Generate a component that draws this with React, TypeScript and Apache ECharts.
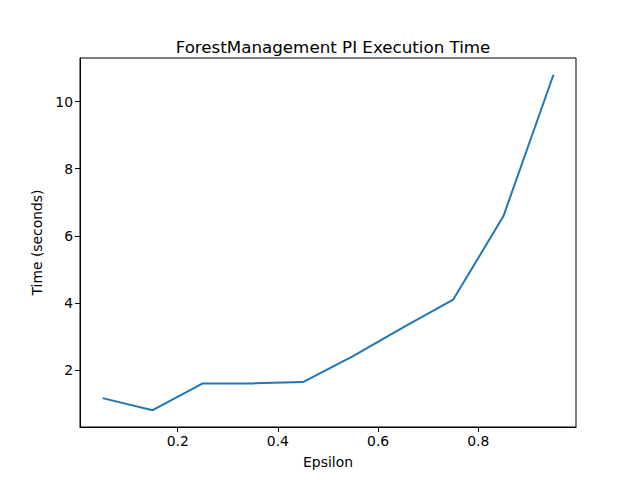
import React, { useEffect, useRef } from 'react';
import * as echarts from 'echarts';

const epsilon = [0.05, 0.15, 0.25, 0.35, 0.45, 0.55, 0.65, 0.75, 0.85, 0.95];
const timeSeconds = [1.16, 0.8, 1.6, 1.6, 1.64, 2.41, 3.27, 4.1, 6.58, 10.8];
const xTicks = [0.2, 0.4, 0.6, 0.8];
const yTicks = [2, 4, 6, 8, 10];

const font = 'DejaVu Sans';

const App: React.FC = () => {
  const chartRef = useRef<HTMLDivElement | null>(null);

  useEffect(() => {
    if (!chartRef.current) return;
    const chart = echarts.init(chartRef.current, null, { renderer: 'svg' });
    chart.setOption({
      animation: false,
      title: {
        text: 'ForestManagement PI Execution Time',
        left: 328,
        top: 33,
        textAlign: 'center',
        textStyle: { fontFamily: font, fontSize: 16.7, fontWeight: 'normal', color: '#000' },
      },
      grid: {
        left: 80,
        right: 64,
        top: 58,
        bottom: 53,
        show: true,
        borderColor: '#000',
        borderWidth: 1,
      },
      xAxis: {
        type: 'value',
        min: 0.005,
        max: 0.995,
        name: 'Epsilon',
        nameLocation: 'middle',
        nameGap: 28,
        nameTextStyle: { fontFamily: font, fontSize: 13.9, color: '#000' },
        splitLine: { show: false },
        axisLine: { lineStyle: { color: '#000' } },
        axisTick: { show: true, length: 5, lineStyle: { color: '#000' }, customValues: xTicks },
        axisLabel: {
          fontFamily: font,
          fontSize: 13.9,
          color: '#000',
          margin: 7,
          customValues: xTicks,
          formatter: (v: number) => String(Math.round(v * 10) / 10),
        },
      },
      yAxis: {
        type: 'value',
        min: 0.3,
        max: 11.3,
        name: 'Time (seconds)',
        nameLocation: 'middle',
        nameGap: 33,
        nameTextStyle: { fontFamily: font, fontSize: 13.9, color: '#000' },
        splitLine: { show: false },
        axisLine: { show: true, lineStyle: { color: '#000' } },
        axisTick: { show: true, length: 5, lineStyle: { color: '#000' }, customValues: yTicks },
        axisLabel: {
          fontFamily: font,
          fontSize: 13.9,
          color: '#000',
          margin: 7,
          customValues: yTicks,
        },
      },
      series: [
        {
          type: 'line',
          data: epsilon.map((e, i) => [e, timeSeconds[i]]),
          showSymbol: false,
          lineStyle: { color: '#1f77b4', width: 2 },
        },
      ],
    });
    return () => chart.dispose();
  }, []);

  return <div ref={chartRef} style={{ width: 640, height: 480, margin: -8 }} />;
};

export default App;
